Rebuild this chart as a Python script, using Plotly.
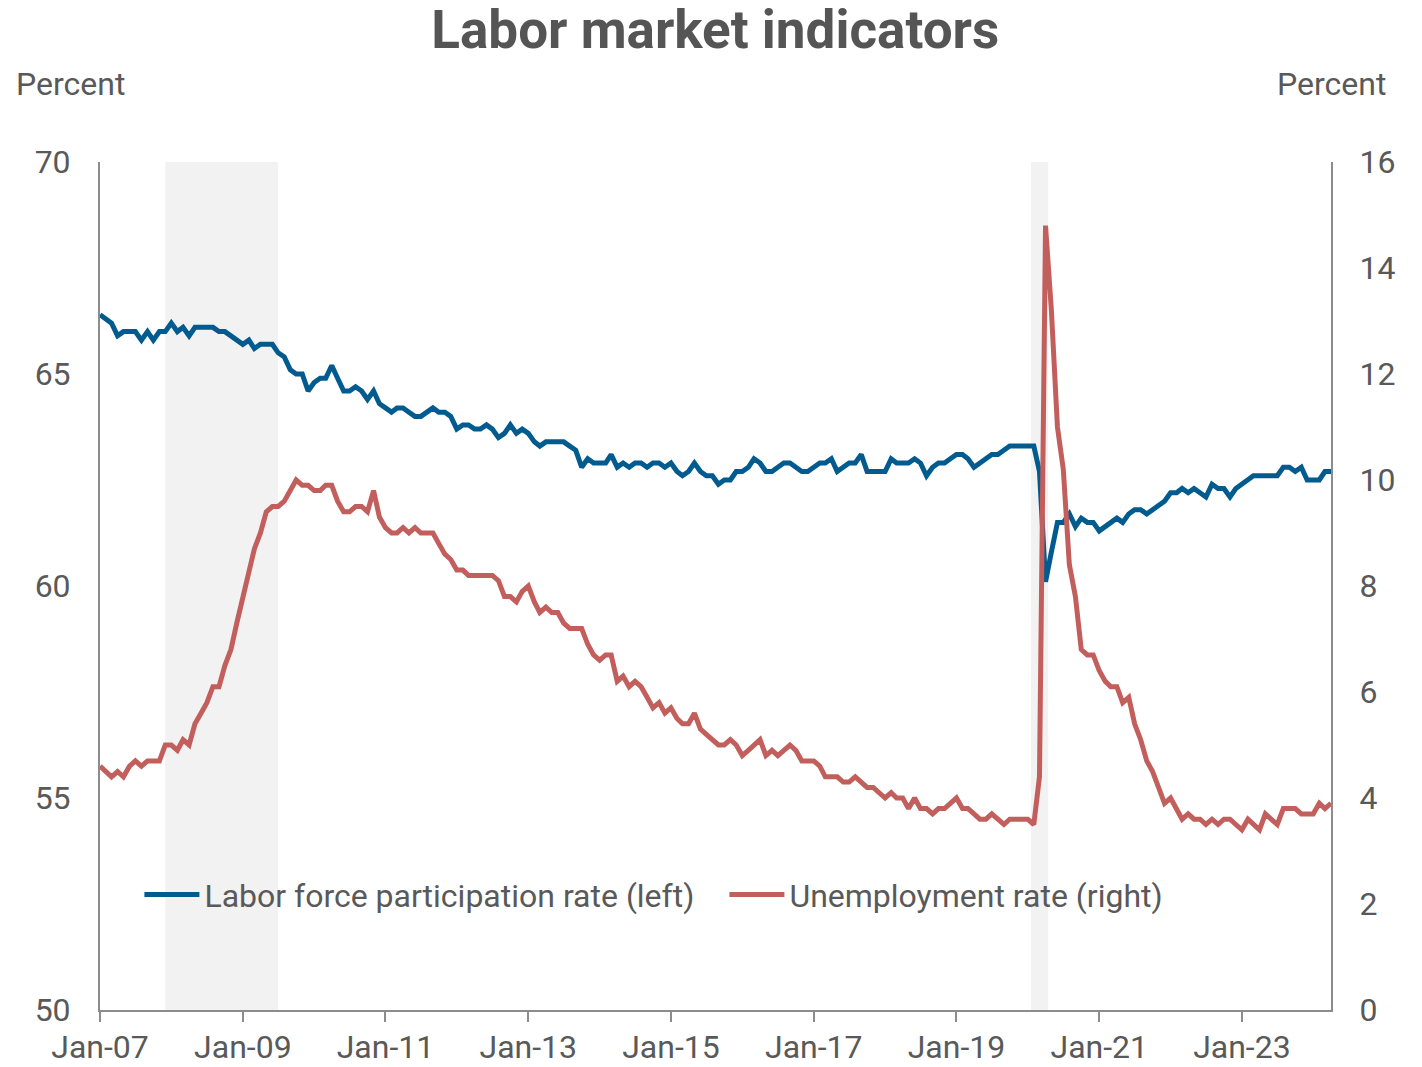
import pandas as pd
import plotly.graph_objects as go

months = pd.date_range("2007-01-01", "2024-04-01", freq="MS")

# labor force participation rate, percent (left axis)
lfpr = [
    66.4, 66.3, 66.2, 65.9, 66.0, 66.0, 66.0, 65.8, 66.0, 65.8, 66.0, 66.0,  # 2007
    66.2, 66.0, 66.1, 65.9, 66.1, 66.1, 66.1, 66.1, 66.0, 66.0, 65.9, 65.8,  # 2008
    65.7, 65.8, 65.6, 65.7, 65.7, 65.7, 65.5, 65.4, 65.1, 65.0, 65.0, 64.6,  # 2009
    64.8, 64.9, 64.9, 65.2, 64.9, 64.6, 64.6, 64.7, 64.6, 64.4, 64.6, 64.3,  # 2010
    64.2, 64.1, 64.2, 64.2, 64.1, 64.0, 64.0, 64.1, 64.2, 64.1, 64.1, 64.0,  # 2011
    63.7, 63.8, 63.8, 63.7, 63.7, 63.8, 63.7, 63.5, 63.6, 63.8, 63.6, 63.7,  # 2012
    63.6, 63.4, 63.3, 63.4, 63.4, 63.4, 63.4, 63.3, 63.2, 62.8, 63.0, 62.9,  # 2013
    62.9, 62.9, 63.1, 62.8, 62.9, 62.8, 62.9, 62.9, 62.8, 62.9, 62.9, 62.8,  # 2014
    62.9, 62.7, 62.6, 62.7, 62.9, 62.7, 62.6, 62.6, 62.4, 62.5, 62.5, 62.7,  # 2015
    62.7, 62.8, 63.0, 62.9, 62.7, 62.7, 62.8, 62.9, 62.9, 62.8, 62.7, 62.7,  # 2016
    62.8, 62.9, 62.9, 63.0, 62.7, 62.8, 62.9, 62.9, 63.1, 62.7, 62.7, 62.7,  # 2017
    62.7, 63.0, 62.9, 62.9, 62.9, 63.0, 62.9, 62.6, 62.8, 62.9, 62.9, 63.0,  # 2018
    63.1, 63.1, 63.0, 62.8, 62.9, 63.0, 63.1, 63.1, 63.2, 63.3, 63.3, 63.3,  # 2019
    63.3, 63.3, 62.7, 60.1, 60.8, 61.5, 61.5, 61.7, 61.4, 61.6, 61.5, 61.5,  # 2020
    61.3, 61.4, 61.5, 61.6, 61.5, 61.7, 61.8, 61.8, 61.7, 61.8, 61.9, 62.0,  # 2021
    62.2, 62.2, 62.3, 62.2, 62.3, 62.2, 62.1, 62.4, 62.3, 62.3, 62.1, 62.3,  # 2022
    62.4, 62.5, 62.6, 62.6, 62.6, 62.6, 62.6, 62.8, 62.8, 62.7, 62.8, 62.5,  # 2023
    62.5, 62.5, 62.7, 62.7,                                                  # 2024
]

# unemployment rate, percent (right axis)
unrate = [
    4.6, 4.5, 4.4, 4.5, 4.4, 4.6, 4.7, 4.6, 4.7, 4.7, 4.7, 5.0,  # 2007
    5.0, 4.9, 5.1, 5.0, 5.4, 5.6, 5.8, 6.1, 6.1, 6.5, 6.8, 7.3,  # 2008
    7.8, 8.3, 8.7, 9.0, 9.4, 9.5, 9.5, 9.6, 9.8, 10.0, 9.9, 9.9,  # 2009
    9.8, 9.8, 9.9, 9.9, 9.6, 9.4, 9.4, 9.5, 9.5, 9.4, 9.8, 9.3,  # 2010
    9.1, 9.0, 9.0, 9.1, 9.0, 9.1, 9.0, 9.0, 9.0, 8.8, 8.6, 8.5,  # 2011
    8.3, 8.3, 8.2, 8.2, 8.2, 8.2, 8.2, 8.1, 7.8, 7.8, 7.7, 7.9,  # 2012
    8.0, 7.7, 7.5, 7.6, 7.5, 7.5, 7.3, 7.2, 7.2, 7.2, 6.9, 6.7,  # 2013
    6.6, 6.7, 6.7, 6.2, 6.3, 6.1, 6.2, 6.1, 5.9, 5.7, 5.8, 5.6,  # 2014
    5.7, 5.5, 5.4, 5.4, 5.6, 5.3, 5.2, 5.1, 5.0, 5.0, 5.1, 5.0,  # 2015
    4.8, 4.9, 5.0, 5.1, 4.8, 4.9, 4.8, 4.9, 5.0, 4.9, 4.7, 4.7,  # 2016
    4.7, 4.6, 4.4, 4.4, 4.4, 4.3, 4.3, 4.4, 4.3, 4.2, 4.2, 4.1,  # 2017
    4.0, 4.1, 4.0, 4.0, 3.8, 4.0, 3.8, 3.8, 3.7, 3.8, 3.8, 3.9,  # 2018
    4.0, 3.8, 3.8, 3.7, 3.6, 3.6, 3.7, 3.6, 3.5, 3.6, 3.6, 3.6,  # 2019
    3.6, 3.5, 4.4, 14.8, 13.2, 11.0, 10.2, 8.4, 7.8, 6.8, 6.7, 6.7,  # 2020
    6.4, 6.2, 6.1, 6.1, 5.8, 5.9, 5.4, 5.1, 4.7, 4.5, 4.2, 3.9,  # 2021
    4.0, 3.8, 3.6, 3.7, 3.6, 3.6, 3.5, 3.6, 3.5, 3.6, 3.6, 3.5,  # 2022
    3.4, 3.6, 3.5, 3.4, 3.7, 3.6, 3.5, 3.8, 3.8, 3.8, 3.7, 3.7,  # 2023
    3.7, 3.9, 3.8, 3.9,                                          # 2024
]

recession_start = ["2007-12-01", "2020-01-18"]
recession_end = ["2009-06-30", "2020-04-15"]

grey_text = "#595959"
axis_grey = "#8c8c8c"
font = "Roboto"
fs = 32

fig = go.Figure()
fig.add_trace(go.Scatter(
    x=months, y=lfpr, mode="lines", name="Labor force participation rate (left)",
    line=dict(color="#025b8f", width=5), yaxis="y"))
fig.add_trace(go.Scatter(
    x=months, y=unrate, mode="lines", name="Unemployment rate (right)",
    line=dict(color="#c25f5d", width=5), yaxis="y2"))

for s, e in zip(recession_start, recession_end):
    fig.add_shape(type="rect", xref="x", yref="paper", x0=s, x1=e, y0=0, y1=1,
                  fillcolor="#f2f2f2", line_width=0, layer="below")

fig.update_layout(
    width=1422, height=1067,
    margin=dict(l=100, r=91, t=162, b=57),
    paper_bgcolor="white", plot_bgcolor="white",
    font=dict(family=font, size=fs, color=grey_text),
    title=dict(text="<b>Labor market indicators</b>", x=0.503, xref="container",
               y=0.972, yref="container", xanchor="center", yanchor="middle",
               font=dict(family=font, size=53, color="#555555")),
    xaxis=dict(range=["2007-01-01", "2024-04-01"], tickformat="%b-%y", dtick="M24",
               tick0="2007-01-01", showgrid=False, zeroline=False, automargin=False,
               showline=True, linecolor=axis_grey, linewidth=2,
               ticks="outside", ticklen=10, tickwidth=1.5, tickcolor=axis_grey,
               ticklabelstandoff=-2, tickfont=dict(size=fs, color=grey_text)),
    yaxis=dict(range=[50, 70], dtick=5, showgrid=False, zeroline=False,
               automargin=False, showline=True, linecolor=axis_grey, linewidth=2,
               ticks="", ticklabelstandoff=21,
               tickfont=dict(size=fs, color=grey_text)),
    yaxis2=dict(range=[0, 16], dtick=2, overlaying="y", side="right",
                showgrid=False, zeroline=False, automargin=False, showline=True,
                linecolor=axis_grey, linewidth=2, ticks="",
                ticklabelstandoff=20, tickfont=dict(size=fs, color=grey_text)),
    legend=dict(orientation="h", x=0.032, y=0.136, xanchor="left", yanchor="middle",
                bgcolor="rgba(0,0,0,0)", font=dict(size=fs, color=grey_text),
                itemwidth=55, entrywidth=515, tracegroupgap=0),
    showlegend=True,
)

fig.add_annotation(text="Percent", xref="paper", yref="paper", x=-0.0695, y=1.092,
                   xanchor="left", yanchor="middle", showarrow=False,
                   font=dict(size=fs, color=grey_text))
fig.add_annotation(text="Percent", xref="paper", yref="paper", x=1.0463, y=1.092,
                   xanchor="right", yanchor="middle", showarrow=False,
                   font=dict(size=fs, color=grey_text))

fig.write_html("out.html", config={"displayModeBar": False},
               post_script="document.body.style.margin='0';")
